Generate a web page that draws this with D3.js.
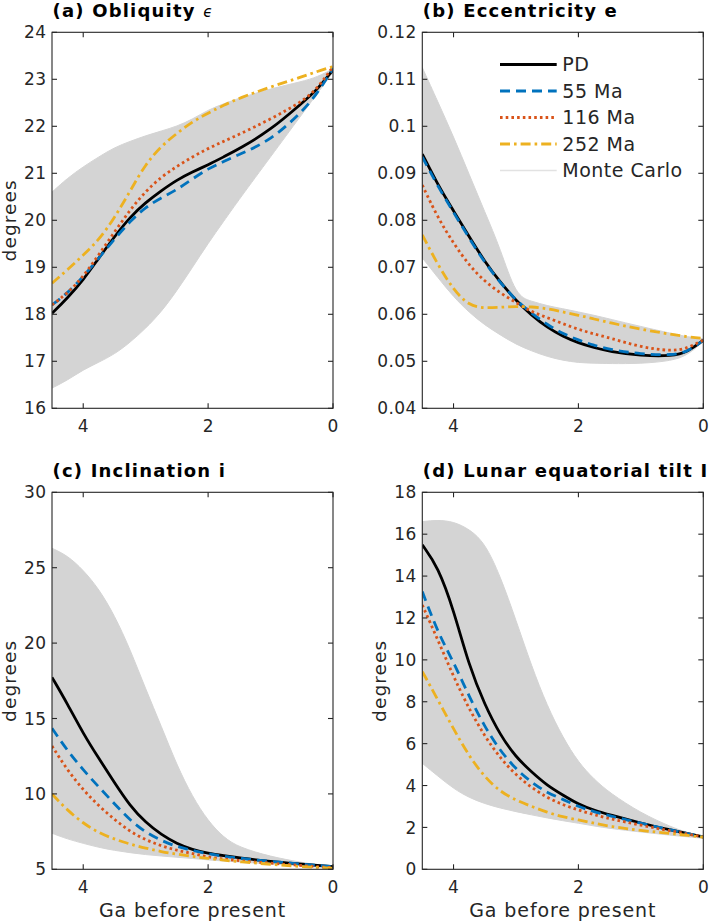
<!DOCTYPE html>
<html>
<head>
<meta charset="utf-8">
<script src="https://cdn.jsdelivr.net/npm/d3@7"></script>
<style>
  html, body { margin: 0; padding: 0; background: #fff; }
  svg { display: block; }
  text { font-family: "DejaVu Sans", sans-serif; fill: #262626; }
</style>
</head>
<body>
<div id="chart"></div>
<script>
// ---------------- DATA ----------------
const timeGa = [4.5, 4.25, 4.0, 3.75, 3.5, 3.25, 3.0, 2.75, 2.5, 2.25, 2.0, 1.75, 1.5, 1.0, 0.5, 0.25, 0];
const xTicks = [4, 2, 0];
const seriesNames = ["PD", "55 Ma", "116 Ma", "252 Ma"];
const mcName = "Monte Carlo";

// (a) Obliquity (degrees)
const obliqPD  = [18.02,18.35,18.73,19.2,19.65,20.07,20.38,20.63,20.86,21.03,21.18,21.35,21.52,21.92,22.49,22.78,23.2];
const obliq55  = [18.2,18.45,18.8,19.2,19.6,19.98,20.28,20.48,20.65,20.88,21.1,21.25,21.4,21.7,22.3,22.7,23.23];
const obliq116 = [18.2,18.45,18.8,19.27,19.75,20.22,20.62,20.92,21.15,21.35,21.53,21.68,21.83,22.15,22.52,22.8,23.27];
const obliq252 = [18.66,18.95,19.26,19.58,20.05,20.62,21.2,21.58,21.85,22.1,22.28,22.45,22.6,22.84,23.05,23.17,23.27];
const obliqMCmax = [20.6,20.9,21.14,21.35,21.55,21.68,21.8,21.9,22.0,22.15,22.35,22.48,22.6,22.8,22.95,23.05,23.22];
const obliqMCmin = [16.43,16.6,16.82,16.98,17.15,17.4,17.7,18.05,18.5,19.0,19.51,19.98,20.45,21.35,22.25,22.7,23.15];
const obliqTicks = [16,17,18,19,20,21,22,23,24];

// (b) Eccentricity
const eccPD  = [0.0941,0.0875,0.082,0.0765,0.0712,0.0668,0.0629,0.0598,0.0572,0.0553,0.0539,0.0529,0.0521,0.0512,0.0511,0.052,0.0545];
const ecc55  = [0.0935,0.0872,0.0817,0.0762,0.071,0.0667,0.063,0.0602,0.0578,0.0559,0.0545,0.0534,0.0525,0.0515,0.0513,0.052,0.0545];
const ecc116 = [0.0875,0.0805,0.0751,0.0704,0.067,0.0645,0.0625,0.0605,0.0593,0.058,0.0568,0.0558,0.055,0.053,0.0521,0.0528,0.0545];
const ecc252 = [0.0769,0.0705,0.0652,0.0618,0.0613,0.0615,0.0617,0.0616,0.0612,0.0605,0.0598,0.059,0.0582,0.0568,0.0557,0.0552,0.0549];
const eccMCmax = [0.1125,0.1052,0.0978,0.0898,0.0818,0.074,0.0638,0.0628,0.0618,0.0612,0.0605,0.0598,0.059,0.0574,0.0559,0.0552,0.0548];
const eccMCmin = [0.072,0.0678,0.0637,0.0604,0.0577,0.0556,0.0536,0.0522,0.051,0.0502,0.0497,0.0496,0.0495,0.0495,0.0501,0.0513,0.0542];
const eccTicks = [0.04,0.05,0.06,0.07,0.08,0.09,0.1,0.11,0.12];

// (c) Inclination (degrees)
const incPD  = [17.73,15.95,14.0,12.35,10.75,9.2,8.1,7.3,6.7,6.3,6.06,5.9,5.75,5.52,5.35,5.26,5.18];
const inc55  = [14.35,12.85,11.59,10.45,9.35,8.25,7.45,6.9,6.5,6.25,6.02,5.86,5.73,5.52,5.35,5.26,5.18];
const inc116 = [13.18,11.55,10.26,9.2,8.3,7.5,6.95,6.55,6.25,6.05,5.8,5.68,5.58,5.4,5.25,5.17,5.11];
const inc252 = [9.99,8.9,8.05,7.42,7.0,6.67,6.4,6.17,6.0,5.85,5.73,5.6,5.5,5.33,5.18,5.12,5.07];
const incMCmax = [26.29,25.8,24.85,23.6,21.85,19.6,16.95,14.5,11.9,9.8,8.2,7.1,6.45,5.84,5.45,5.3,5.18];
const incMCmin = [7.39,7.0,6.72,6.45,6.25,6.1,5.97,5.88,5.8,5.72,5.62,5.55,5.48,5.36,5.22,5.14,5.07];
const incTicks = [5,10,15,20,25,30];

// (d) Lunar equatorial tilt (degrees)
const tiltPD  = [15.49,14.45,12.4,9.7,7.85,6.4,5.35,4.65,4.0,3.55,3.1,2.82,2.6,2.2,1.86,1.7,1.55];
const tilt55  = [13.26,11.3,9.9,8.25,6.8,5.65,4.78,4.15,3.65,3.35,2.99,2.75,2.55,2.2,1.86,1.7,1.55];
const tilt116 = [12.62,10.95,9.2,7.65,6.35,5.3,4.5,3.9,3.42,3.08,2.83,2.6,2.42,2.1,1.82,1.68,1.55];
const tilt252 = [9.44,8.09,6.7,5.4,4.4,3.7,3.3,3.0,2.72,2.5,2.36,2.2,2.05,1.85,1.7,1.62,1.53];
const tiltMCmax = [16.6,16.68,16.6,16.25,15.6,14.0,11.9,9.7,7.8,6.3,5.1,4.3,3.65,2.68,2.0,1.75,1.56];
const tiltMCmin = [5.06,4.45,3.85,3.42,3.13,2.92,2.75,2.6,2.45,2.32,2.2,2.07,1.95,1.78,1.62,1.55,1.48];
const tiltTicks = [0,2,4,6,8,10,12,14,16,18];

// ---------------- STYLES / LAYOUT ----------------
const W = 709, H = 922;
const ink = "#262626";
const mcGray = "#d4d4d4";
const styles = [
  { color: "#000000", dash: null },
  { color: "#0072BD", dash: "10,6" },
  { color: "#D95319", dash: "2.6,3.1" },
  { color: "#EDB120", dash: "10,4,2.6,4" }
];

const panels = [
  { key: "a", title: "(a) Obliquity ", sym: "ϵ", box: [52, 333, 32.3, 408.3], domain: [16, 24], ticks: obliqTicks,
    fmt: d => d3.format("d")(d), data: [obliqPD, obliq55, obliq116, obliq252], mc: [obliqMCmin, obliqMCmax],
    ylabel: true, xlabel: false, legend: false },
  { key: "b", title: "(b) Eccentricity e", sym: "", box: [422.3, 703.3, 32.3, 408.3], domain: [0.04, 0.12], ticks: eccTicks,
    fmt: d => (Math.abs(d - 0.1) < 1e-9 ? "0.1" : d3.format(".2f")(d)), data: [eccPD, ecc55, ecc116, ecc252], mc: [eccMCmin, eccMCmax],
    ylabel: false, xlabel: false, legend: true },
  { key: "c", title: "(c) Inclination i", sym: "", box: [52, 333, 492.3, 869.3], domain: [5, 30], ticks: incTicks,
    fmt: d => d3.format("d")(d), data: [incPD, inc55, inc116, inc252], mc: [incMCmin, incMCmax],
    ylabel: true, xlabel: true, legend: false },
  { key: "d", title: "(d) Lunar equatorial tilt I", sym: "", box: [422.3, 703.3, 492.3, 869.3], domain: [0, 18], ticks: tiltTicks,
    fmt: d => d3.format("d")(d), data: [tiltPD, tilt55, tilt116, tilt252], mc: [tiltMCmin, tiltMCmax],
    ylabel: true, xlabel: true, legend: false }
];

const svg = d3.select("#chart").append("svg").attr("width", W).attr("height", H);
const defs = svg.append("defs");

panels.forEach(p => {
  const [x0, x1, y0, y1] = p.box;
  const x = d3.scaleLinear().domain([4.5, 0]).range([x0, x1]);
  const y = d3.scaleLinear().domain(p.domain).range([y1, y0]);
  const g = svg.append("g");

  defs.append("clipPath").attr("id", "clip-" + p.key)
    .append("rect").attr("x", x0).attr("y", y0).attr("width", x1 - x0).attr("height", y1 - y0);

  const plot = g.append("g").attr("clip-path", "url(#clip-" + p.key + ")");

  // Monte Carlo envelope
  const area = d3.area()
    .x((d, i) => x(timeGa[i]))
    .y0((d, i) => y(p.mc[0][i]))
    .y1((d, i) => y(p.mc[1][i]))
    .curve(d3.curveBasis);
  plot.append("path").datum(timeGa).attr("d", area)
    .attr("fill", mcGray).attr("stroke", mcGray).attr("stroke-width", 1);

  // Model curves
  const line = d3.line().x((d, i) => x(timeGa[i])).y(d => y(d)).curve(d3.curveBasis);
  p.data.forEach((arr, k) => {
    plot.append("path").datum(arr).attr("d", line)
      .attr("fill", "none").attr("stroke", styles[k].color)
      .attr("stroke-width", 2.8)
      .attr("stroke-dasharray", styles[k].dash)
      .attr("stroke-linecap", "butt");
  });

  // Box
  g.append("rect").attr("x", x0).attr("y", y0).attr("width", x1 - x0).attr("height", y1 - y0)
    .attr("fill", "none").attr("stroke", ink).attr("stroke-width", 1.1);

  // Y ticks (inward, both sides) + labels
  p.ticks.forEach(v => {
    const yy = y(v);
    g.append("line").attr("x1", x0).attr("x2", x0 + 5).attr("y1", yy).attr("y2", yy).attr("stroke", ink).attr("stroke-width", 1.1);
    g.append("line").attr("x1", x1).attr("x2", x1 - 5).attr("y1", yy).attr("y2", yy).attr("stroke", ink).attr("stroke-width", 1.1);
    g.append("text").attr("x", x0 - 5.5).attr("y", yy).attr("dy", "0.36em")
      .attr("text-anchor", "end").attr("font-size", 17).attr("letter-spacing", 0.4)
      .text(p.fmt(v));
  });

  // X ticks (inward, top and bottom) + labels
  xTicks.forEach(v => {
    const xx = x(v);
    g.append("line").attr("x1", xx).attr("x2", xx).attr("y1", y1).attr("y2", y1 - 5).attr("stroke", ink).attr("stroke-width", 1.1);
    g.append("line").attr("x1", xx).attr("x2", xx).attr("y1", y0).attr("y2", y0 + 5).attr("stroke", ink).attr("stroke-width", 1.1);
    g.append("text").attr("x", xx).attr("y", y1 + 23.4)
      .attr("text-anchor", "middle").attr("font-size", 17).text(d3.format("d")(v));
  });

  // Title
  const tt = g.append("text").attr("x", x0 + 0.5).attr("y", y0 - 15.5)
    .attr("font-size", 18).attr("font-weight", "bold").attr("letter-spacing", 1.2)
    .style("fill", "#000").text(p.title);
  if (p.sym) {
    tt.append("tspan").attr("font-weight", "normal").attr("font-size", 15)
      .attr("font-style", "italic").attr("letter-spacing", 0).text(p.sym);
  }

  // Y label
  if (p.ylabel) {
    const lx = x0 - 36.5;
    const ly = (y0 + y1) / 2;
    g.append("text").attr("transform", `translate(${lx},${ly}) rotate(-90)`)
      .attr("text-anchor", "middle").attr("font-size", 18.5).attr("letter-spacing", 1.1)
      .text("degrees");
  }

  // X label
  if (p.xlabel) {
    g.append("text").attr("x", (x0 + x1) / 2).attr("y", y1 + 47.4)
      .attr("text-anchor", "middle").attr("font-size", 19).attr("letter-spacing", 0.9)
      .text("Ga before present");
  }

  // Legend
  if (p.legend) {
    const lx0 = 500, lx1 = 556.7, tx = 562.3, rowY0 = 64.5, rowDy = 26.5;
    const leg = g.append("g");
    seriesNames.forEach((name, k) => {
      const ry = rowY0 + k * rowDy;
      leg.append("line").attr("x1", lx0).attr("x2", lx1).attr("y1", ry).attr("y2", ry)
        .attr("stroke", styles[k].color).attr("stroke-width", 2.8)
        .attr("stroke-dasharray", styles[k].dash);
      leg.append("text").attr("x", tx).attr("y", ry).attr("dy", "0.36em")
        .attr("font-size", 19).attr("letter-spacing", 0.5).text(name);
    });
    const ry = rowY0 + 4 * rowDy;
    leg.append("line").attr("x1", lx0).attr("x2", lx1).attr("y1", ry).attr("y2", ry)
      .attr("stroke", "#e2e2e2").attr("stroke-width", 1.5);
    leg.append("text").attr("x", tx).attr("y", ry).attr("dy", "0.36em")
      .attr("font-size", 19).attr("letter-spacing", 0.5).text(mcName);
  }
});
</script>
</body>
</html>
